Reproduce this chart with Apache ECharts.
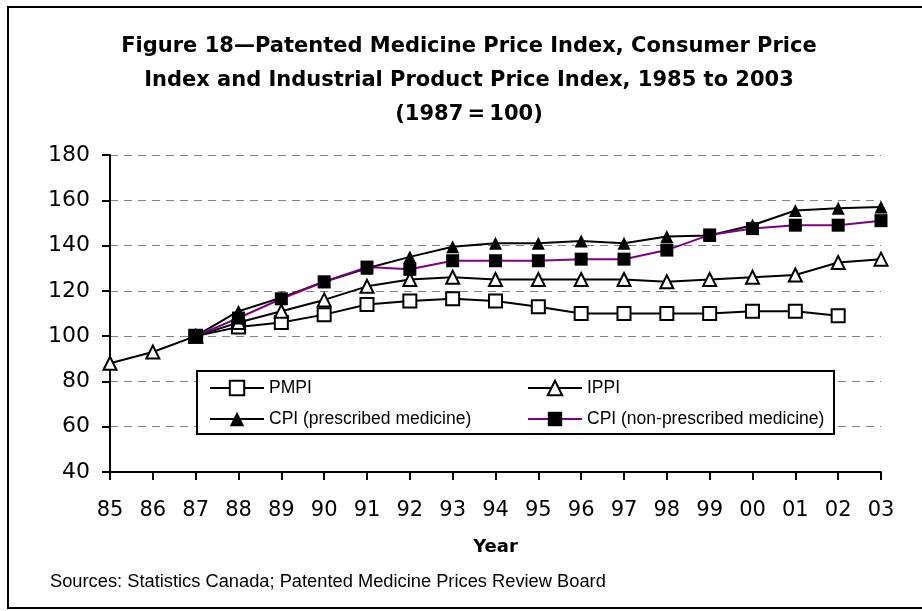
<!DOCTYPE html>
<html>
  <meta charset="UTF-8">
  <title>Figure 18 - PMPI, CPI and IPPI</title>
  <style type="text/css">
    html,body{margin:0px;height:100%;width:100%;background:#fff}
    .container{width:922px;height:611px}
  </style>
  <script type="text/javascript" src="https://cdn.jsdelivr.net/npm/echarts@6/dist/echarts.min.js"></script>
  <body>
    <div id="chart" class="container"></div>

    <script>
      // years shown on the axis (two digits)
      var years = ['85','86','87','88','89','90','91','92','93','94','95','96','97','98','99','00','01','02','03'];
      var yTicks = [40, 60, 80, 100, 120, 140, 160, 180];

      // index values, 1987 = 100
      var pmpi = [null, null, 100, 104, 106, 109.5, 114, 115.5, 116.5, 115.5, 113, 110, 110, 110, 110, 111, 111, 109, null];
      var ippi = [88, 93, 100, 106, 111, 116, 122, 125, 126, 125, 125, 125, 125, 124, 125, 126, 127, 132.5, 134];
      var cpiPrescribed = [null, null, 100, 111, 117, 124, 130, 135, 139.5, 141, 141, 142, 141, 144, 144.5, 149, 155.5, 156.5, 157];
      var cpiNonPrescribed = [null, null, 100, 108, 116.5, 124, 130.5, 129.5, 133.3, 133.3, 133.3, 134, 134, 138, 144.7, 147.5, 149, 149, 151];

      var names = ['PMPI', 'IPPI', 'CPI (prescribed medicine)', 'CPI (non-prescribed medicine)'];

      var chart = echarts.init(document.getElementById('chart'));

      function lineSeries(name, data, symbol, fill, lineColor) {
        return {
          name: name,
          type: 'line',
          data: data,
          symbol: symbol,
          symbolSize: 13,
          connectNulls: false,
          color: lineColor,
          lineStyle: { color: lineColor, width: 2 },
          itemStyle: { color: fill, borderColor: '#000', borderWidth: fill === '#fff' ? 2 : 0 },
          emphasis: { disabled: true }
        };
      }

      var legendText = { fontFamily: 'Liberation Sans', fontSize: 17.5, color: '#000' };

      var option = {
        animation: false,
        backgroundColor: '#fff',
        title: {
          text: 'Figure 18\u2014Patented Medicine Price Index, Consumer Price\nIndex and Industrial Product Price Index, 1985 to 2003\n(1987\u2009=\u2009100)',
          left: 464,
          top: 25,
          textAlign: 'center',
          textStyle: { fontFamily: 'DejaVu Sans', fontWeight: 'bold', fontSize: 21, lineHeight: 34, color: '#000' }
        },
        grid: { left: 110, right: 41, top: 155, bottom: 139 },
        xAxis: {
          type: 'category',
          data: years,
          boundaryGap: false,
          name: 'Year',
          nameLocation: 'middle',
          nameGap: 66,
          nameTextStyle: { fontFamily: 'DejaVu Sans', fontWeight: 'bold', fontSize: 18, color: '#000' },
          axisLine: { lineStyle: { color: '#000', width: 2 } },
          axisTick: { alignWithLabel: true, length: 8, lineStyle: { color: '#000', width: 2 } },
          axisLabel: { fontFamily: 'DejaVu Sans', fontSize: 21, color: '#000', margin: 28, interval: 0 }
        },
        yAxis: {
          type: 'value',
          min: yTicks[0],
          max: yTicks[yTicks.length - 1],
          interval: 20,
          axisLine: { show: true, lineStyle: { color: '#000', width: 2 } },
          axisTick: { show: true, length: 8, lineStyle: { color: '#000', width: 2 } },
          axisLabel: { fontFamily: 'DejaVu Sans', fontSize: 22, color: '#000', margin: 20 },
          splitLine: { lineStyle: { color: '#808080', width: 1, type: [8, 6] } }
        },
        legend: [
          {
            data: [names[0], names[2]],
            orient: 'vertical',
            left: 204,
            top: 374,
            itemWidth: 54,
            itemHeight: 18,
            itemGap: 13,
            textStyle: legendText,
            z: 6
          },
          {
            data: [names[1], names[3]],
            orient: 'vertical',
            left: 522,
            top: 374,
            itemWidth: 54,
            itemHeight: 18,
            itemGap: 13,
            textStyle: legendText,
            z: 6
          }
        ],
        graphic: [
          {
            type: 'rect',
            z: 0,
            shape: { x: 8, y: 7, width: 940, height: 601 },
            style: { fill: null, stroke: '#000', lineWidth: 2 }
          },
          {
            type: 'rect',
            z: 5,
            shape: { x: 197, y: 371, width: 637, height: 63 },
            style: { fill: '#fff', stroke: '#000', lineWidth: 2 }
          },
          {
            type: 'text',
            left: 50,
            top: 573,
            style: { text: 'Sources: Statistics Canada; Patented Medicine Prices Review Board', fontFamily: 'Liberation Sans', fontSize: 18.3, fill: '#000' }
          }
        ],
        series: [
          lineSeries(names[0], pmpi, 'rect', '#fff', '#000'),
          lineSeries(names[1], ippi, 'triangle', '#fff', '#000'),
          lineSeries(names[2], cpiPrescribed, 'triangle', '#000', '#000'),
          lineSeries(names[3], cpiNonPrescribed, 'rect', '#000', '#800080')
        ]
      };

      chart.setOption(option);
    </script>
  </body>
</html>
